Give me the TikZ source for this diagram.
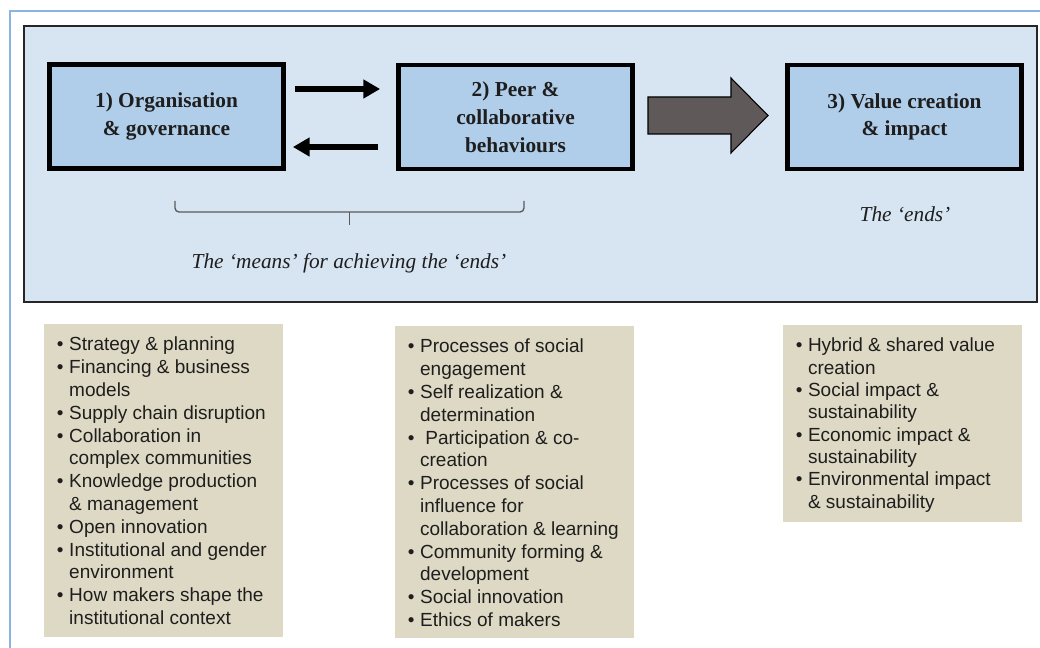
\documentclass[tikz,border=0pt]{standalone}
\usepackage{fontspec}
\setmainfont{Liberation Serif}
\newfontfamily\listfont{Liberation Sans}
\usetikzlibrary{arrows.meta,calc}

\definecolor{pageframe}{HTML}{8DB3E2}
\definecolor{panelfill}{HTML}{D7E4F2}
\definecolor{boxfill}{HTML}{B0CDE9}
\definecolor{notefill}{HTML}{DDD9C4}
\definecolor{flowfill}{HTML}{5F5A59}
\definecolor{bracecol}{HTML}{5A5A5A}
\definecolor{inkcol}{HTML}{1E1E1E}

% bullet and hanging indent for the note lists
\newlength\bulw
\setlength{\bulw}{9.2pt}
\newcommand{\mk}{\makebox[\bulw][l]{•}}
\newcommand{\ct}{\hspace*{\bulw}}

\begin{document}
\begin{tikzpicture}[x=0.75pt,y=-0.75pt,
  stage/.style={draw=black, line width=3.6pt, fill=boxfill,
    minimum width=234*0.75pt, minimum height=104*0.75pt,
    align=center, inner sep=0pt, text=inkcol,
    font=\fontsize{16}{20.8}\selectfont\bfseries},
  swap/.style={line width=5pt, -{Triangle[length=12.5pt,width=13.5pt]}},
  notebox/.style={fill=notefill},
  listline/.style={anchor=base west, inner sep=0pt, text=inkcol,
    font=\listfont\fontsize{14.25}{17}\selectfont},
  caption/.style={anchor=base, inner sep=0pt, text=inkcol,
    font=\fontsize{16}{19}\selectfont\itshape},
]
\useasboundingbox (0,0) rectangle (1040,648);
\fill[white] (0,0) rectangle (1040,648);

% page frame
\draw[pageframe, line width=1.1pt] (10,648) -- (10,11) -- (1040,11);

% upper panel
\draw[panelfill, fill=panelfill] (24,26) rectangle (1037,302);
\draw[black!85, line width=1.6pt] (24,26) rectangle (1037,302);

% the three stages
\node[stage] (b1) at (166.5,116.5) {1) Organisation\\ \& governance};
\node[stage] (b2) at (515.5,117) {2) Peer \&\\ collaborative\\ behaviours};
\node[stage] (b3) at (904.5,117) {3) Value creation\\ \& impact};

% two-way link between stage 1 and stage 2
\draw[swap] ($(b1.east)+(9,-27.5)$) -- ($(b2.west)+(-16,-28)$);
\draw[swap] ($(b2.west)+(-18,30)$) -- ($(b1.east)+(7,30.5)$);

% block arrow from stage 2 to stage 3
\draw[fill=flowfill, draw=black, line width=0.8pt]
  (648,97) -- (731,97) -- (731,78) -- (768,115.5) -- (731,153) -- (731,134) -- (648,134) -- cycle;

% bracket under stages 1 and 2
\coordinate (brl) at (175,201);
\coordinate (brr) at (524,201);
\coordinate (brm) at (349.5,212);
\draw[bracecol, line width=1pt, rounded corners=3pt] (brl) -- (175,212) -- (524,212) -- (brr);
\draw[bracecol, line width=1pt] (brm) -- (349.5,225);

\node[caption] (means) at (349,269) {The ‘means’ for achieving the ‘ends’};
\node[caption] (ends) at (905,221.5) {The ‘ends’};

% note boxes
\fill[notebox] (44,324) rectangle (283,637);
\fill[notebox] (395,326) rectangle (634,638);
\fill[notebox] (783,325) rectangle (1022,522);

\foreach \t [count=\i] in {\mk Strategy \& planning, \mk Financing \& business, \ct models,
  \mk Supply chain disruption, \mk Collaboration in, \ct complex communities,
  \mk Knowledge production, \ct \& management, \mk Open innovation,
  \mk Institutional and gender, \ct environment, \mk How makers shape the,
  \ct institutional context}
  \node[listline] (na\i) at (56.7,{351+(\i-1)*22.8}) {\t};

\foreach \t [count=\i] in {\mk Processes of social, \ct engagement,
  \mk Self realization \&, \ct determination, \mk\ Participation \& co-, \ct creation,
  \mk Processes of social, \ct influence for, \ct collaboration \& learning,
  \mk Community forming \&, \ct development, \mk Social innovation, \mk Ethics of makers}
  \node[listline] (nb\i) at (407.6,{353+(\i-1)*22.8}) {\t};

\foreach \t [count=\i] in {\mk Hybrid \& shared value, \ct creation,
  \mk Social impact \&, \ct sustainability, \mk Economic impact \&, \ct sustainability,
  \mk Environmental impact, \ct \& sustainability}
  \node[listline] (nc\i) at (795.5,{352+(\i-1)*22.3}) {\t};
\end{tikzpicture}
\end{document}
